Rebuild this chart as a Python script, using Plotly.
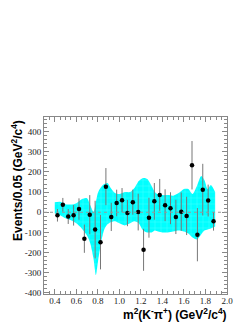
import plotly.graph_objects as go

# data points (bin centres, values, errors)
mass = [0.425, 0.475, 0.525, 0.575, 0.625, 0.675, 0.725, 0.775, 0.825, 0.875,
        0.925, 0.975, 1.025, 1.075, 1.125, 1.175, 1.225, 1.275, 1.325, 1.375,
        1.425, 1.475, 1.525, 1.575, 1.625, 1.675, 1.725, 1.775, 1.825, 1.875]
events = [-15, 37, -21, -15, 16, -131, -12, -86, -148, 127,
          -23, 46, 60, -4, 50, 1, -186, -27, 54, 86,
          35, 20, -23, 3, -18, 233, -111, 112, 58, -45]
errors = [31, 34, 37, 51, 53, 70, 97, 143, 135, 92,
          70, 66, 60, 65, 62, 91, 104, 99, 91, 79,
          79, 79, 85, 95, 95, 120, 132, 128, 79, 46]

# band envelope
band_x = [0.40, 0.45, 0.50, 0.55, 0.60, 0.65, 0.70, 0.73, 0.76, 0.782, 0.80, 0.83,
          0.86, 0.89, 0.92, 0.96, 1.00, 1.05, 1.10, 1.14, 1.18, 1.22, 1.26, 1.30,
          1.33, 1.36, 1.40, 1.45, 1.50, 1.55, 1.60, 1.64, 1.68, 1.72, 1.76, 1.79,
          1.82, 1.85, 1.89]
band_hi = [50, 52, 40, 38, 45, 65, 70, 35, 2, 50, 95, 125,
           140, 145, 120, 95, 90, 100, 100, 120, 155, 170, 165, 130,
           100, 88, 85, 85, 82, 95, 115, 115, 90, 130, 180, 160,
           115, 135, 100]
band_lo = [-5, -15, -30, -40, -55, -80, -115, -155, -230, -312, -250, -150,
           -85, -60, -50, -45, -55, -65, -55, -45, -55, -90, -100, -100,
           -90, -95, -100, -100, -95, -90, -95, -105, -125, -135, -110, -90,
           -85, -80, -70]

x_ticks = [0.4, 0.6, 0.8, 1.0, 1.2, 1.4, 1.6, 1.8, 2.0]
x_ticktext = ["0.4", "0.6", "0.8", "1.0", "1.2", "1.4", "1.6", "1.8", "2.0"]
y_ticks = [-400, -300, -200, -100, 0, 100, 200, 300, 400]
y_ticktext = ["-400", "-300", "-200", "-100", "0", "100", "200", "300", "400"]

fig = go.Figure()
fig.add_trace(go.Scatter(x=band_x, y=band_hi, mode="lines",
                         line=dict(width=0, shape="spline", smoothing=0.7),
                         showlegend=False, hoverinfo="skip"))
fig.add_trace(go.Scatter(x=band_x, y=band_lo, mode="lines",
                         line=dict(width=0, shape="spline", smoothing=0.7),
                         fill="tonexty", fillcolor="#00FFFF",
                         fillpattern=dict(shape="+", bgcolor="#00FFFF",
                                          fgcolor="rgba(255,255,255,0.7)",
                                          size=6, solidity=0.12),
                         showlegend=False, hoverinfo="skip"))
fig.add_trace(go.Scatter(x=mass, y=events, mode="markers",
                         marker=dict(color="black", size=4.5),
                         error_y=dict(type="data", array=errors, color="#777777",
                                      thickness=1, width=0),
                         showlegend=False))

fig.add_shape(type="line", xref="x", yref="y", x0=0.3, x1=2.0, y0=0, y1=0,
              line=dict(color="#999999", width=1, dash="dot"), layer="above")

axis_common = dict(showgrid=False, zeroline=False, showline=True, linecolor="#888888",
                   linewidth=1, mirror="ticks", ticks="inside", tickcolor="#888888",
                   tickfont=dict(family="Liberation Serif", size=9, color="#222222"))

fig.update_xaxes(range=[0.3, 2.0], tickvals=x_ticks, ticktext=x_ticktext, ticklen=5,
                 ticklabelstandoff=-2,
                 minor=dict(dtick=0.05, ticks="inside", ticklen=3, tickcolor="#888888"),
                 **axis_common)
fig.update_yaxes(range=[-405, 472], tickvals=y_ticks, ticktext=y_ticktext, ticklen=5,
                 minor=dict(dtick=20, ticks="inside", ticklen=3, tickcolor="#888888"),
                 **axis_common)

fig.add_annotation(text="<b>Events/0.05 (GeV<sup>2</sup>/c<sup>4</sup>)</b>", textangle=-90,
                   xref="paper", yref="paper", x=-0.148, y=0.644, xanchor="center",
                   yanchor="middle", showarrow=False,
                   font=dict(family="Liberation Sans", size=12, color="black"))
fig.add_annotation(text="<b>m<sup>2</sup>(K<sup>-</sup>π<sup>+</sup>) (GeV<sup>2</sup>/c<sup>4</sup>)</b>",
                   xref="paper", yref="paper", x=1.01, y=-0.112, xanchor="right",
                   yanchor="middle", showarrow=False,
                   font=dict(family="Liberation Sans", size=12, color="black"))

fig.update_layout(width=249, height=323, margin=dict(l=36, r=30, t=109, b=37),
                  paper_bgcolor="white", plot_bgcolor="white")
fig.write_html("out.html")
